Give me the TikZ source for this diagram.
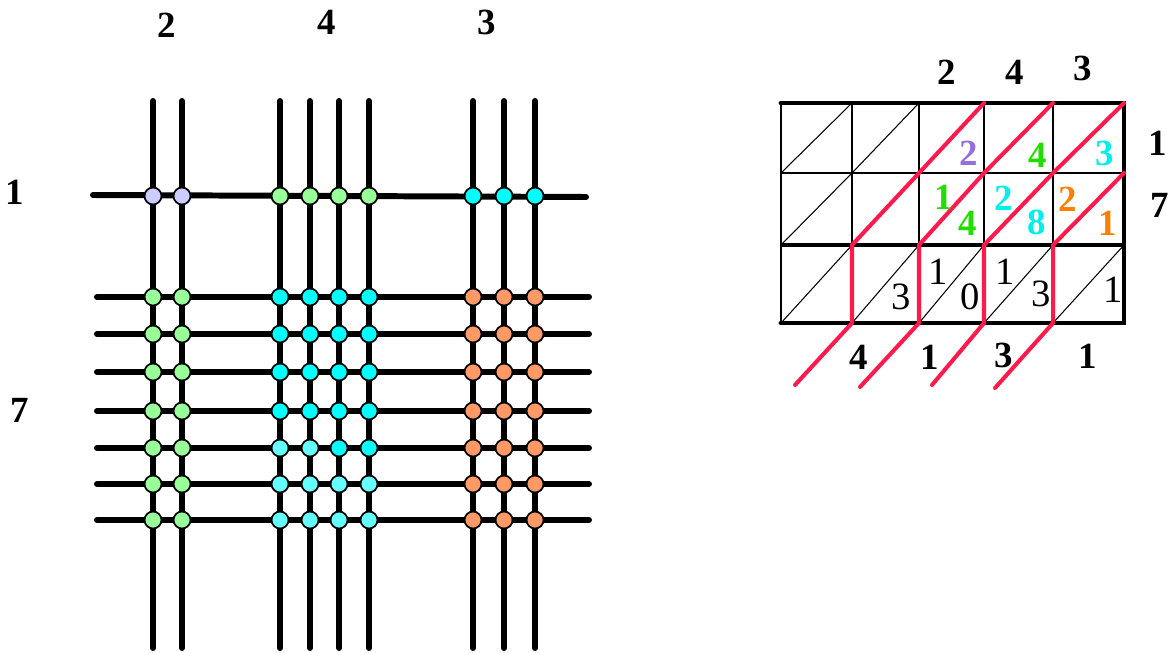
\documentclass[tikz,border=0pt]{standalone}
\usepackage{fontspec}
\setmainfont{Liberation Serif}
\usetikzlibrary{positioning}

\definecolor{lavanda}{HTML}{CCCCFF}
\definecolor{verde}{HTML}{99FF99}
\definecolor{ciano}{HTML}{00FFFF}
\definecolor{cianochiaro}{HTML}{66FFFF}
\definecolor{arancio}{HTML}{FF9966}
\definecolor{rosso}{HTML}{FF1A4B}
\definecolor{viola}{HTML}{9370DB}
\definecolor{verdecifra}{HTML}{22DD00}
\definecolor{cianocifra}{HTML}{00EEEE}
\definecolor{arancifra}{HTML}{FF8000}

\tikzset{
	filo/.style={line width=3.4pt, line cap=round},
	nodo/.style={circle, draw, line width=1pt, inner sep=0pt, minimum size=0.34cm},
	cifra/.style={font=\fontsize{21}{21}\selectfont\bfseries, inner sep=0pt},
	cifrasottile/.style={font=\fontsize{22}{22}\selectfont, inner sep=0pt},
	sottile/.style={line width=0.6pt},
	spesso/.style={line width=2.8pt, line cap=round},
	rossa/.style={rosso, line width=2.3pt, line cap=round, line join=round}
}

\begin{document}
\begin{tikzpicture}[x=0.02cm, y=-0.02cm]
				\useasboundingbox (0,0) rectangle (1168,652);
				
				% Fattori (metodo con le linee)
				\node[cifra] (la2) at (167,25) {2};
				\node[cifra] (la4) at (327,22) {4};
				\node[cifra] (la3) at (487,22) {3};
				\node[cifra] (lb1) at (15,192) {1};
				\node[cifra] (lb7) at (20,410) {7};
				
				% Linee verticali e orizzontali
				\foreach \x in {153,182,280,310,339,369,473,504,535}
					\draw[filo] (\x,101) -- (\x,648);
				\draw[filo] (93,195) -- (586,197);
				\foreach \y in {297,334,372,411,448,484,520}
					\draw[filo] (97,\y) -- (589,\y);
				
				% Incroci della prima riga
				\foreach \x in {153,182}
					\node[nodo, fill=lavanda] (p\x-196) at (\x,196) {};
				\foreach \x in {280,310,339,369}
					\node[nodo, fill=verde] (p\x-196) at (\x,196) {};
				\foreach \x in {473,504,535}
					\node[nodo, fill=ciano] (p\x-196) at (\x,196) {};
				
				% Incroci delle altre righe
				\foreach \y in {297,334,372,411,448,484,520} {
					\foreach \x in {153,182}
						\node[nodo, fill=verde] (p\x-\y) at (\x,\y) {};
					\foreach \x in {473,504,535}
						\node[nodo, fill=arancio] (p\x-\y) at (\x,\y) {};
				}
				\foreach \y in {297,334,372,411}
					\foreach \x in {280,310,339,369}
						\node[nodo, fill=ciano] (p\x-\y) at (\x,\y) {};
				\node[nodo, fill=cianochiaro] (p280-448) at (280,448) {};
				\node[nodo, fill=cianochiaro] (p310-448) at (310,448) {};
				\node[nodo, fill=ciano] (p339-448) at (339,448) {};
				\node[nodo, fill=ciano] (p369-448) at (369,448) {};
				\foreach \y in {484,520}
					\foreach \x in {280,310,339,369}
						\node[nodo, fill=cianochiaro] (p\x-\y) at (\x,\y) {};
				
				% Griglia (metodo a gelosia)
				\foreach \x [count=\i] in {781,852,919,984,1053,1124}
					\foreach \y [count=\j] in {103,173,245,323}
						\coordinate (g\i\j) at (\x,\y);
				\foreach \i in {1,...,5}
					\draw[sottile] (g\i1) -- (g\i4);
				\draw[sottile] (g12) -- (g62);
				\foreach \i/\k in {1/2,2/3,3/4,4/5,5/6}
					\foreach \j/\m in {1/2,2/3,3/4}
						\draw[sottile] (g\i\m) -- (g\k\j);
				\draw[spesso] (g11) -- (g61) -- (g64) -- (g14);
				\draw[line width=2.3pt] (g13) -- (g63);
				
				% Diagonali rosse
				\coordinate (fine1) at (795,385);
				\coordinate (fine2) at (860,387);
				\coordinate (fine3) at (932,385);
				\coordinate (fine4) at (995,388);
				\draw[rossa] (g41) -- (g32) -- (g23) -- (g24) -- (fine1);
				\draw[rossa] (g51) -- (g42) -- (g33) -- (g34) -- (fine2);
				\draw[rossa] (g61) -- (g52) -- (g43) -- (g44) -- (fine3);
				\draw[rossa] (g62) -- (g53) -- (g54) -- (fine4);
				
				% Fattori e prodotti parziali
				\node[cifra] (ra2) at (947,72) {2};
				\node[cifra] (ra4) at (1015,72) {4};
				\node[cifra] (ra3) at (1083,68) {3};
				\node[cifra] (rb1) at (1158,143) {1};
				\node[cifra] (rb7) at (1160,205) {7};
				\node[cifra, viola] (c1) at (969,153) {2};
				\node[cifra, verdecifra] (c2) at (1038,155) {4};
				\node[cifra, cianocifra] (c3) at (1105,153) {3};
				\node[cifra, verdecifra] (c4) at (944,197) {1};
				\node[cifra, verdecifra] (c5) at (968,223) {4};
				\node[cifra, cianocifra] (c6) at (1004,198) {2};
				\node[cifra, cianocifra] (c7) at (1037,222) {8};
				\node[cifra, arancifra] (c8) at (1068,199) {2};
				\node[cifra, arancifra] (c9) at (1108,223) {1};
				\node[cifrasottile] (s1) at (901,297) {3};
				\node[cifrasottile] (s2) at (938,272) {1};
				\node[cifrasottile] (s3) at (970,297) {0};
				\node[cifrasottile] (s4) at (1005,272) {1};
				\node[cifrasottile] (s5) at (1041,294) {3};
				\node[cifrasottile] (s6) at (1113,290) {1};
				
				% Risultato
				\node[cifra] (r4) at (859,357) {4};
				\node[cifra] (r1) at (930,357) {1};
				\node[cifra] (r3) at (1004,355) {3};
				\node[cifra] (r1b) at (1088,356) {1};
			\end{tikzpicture}
\end{document}
